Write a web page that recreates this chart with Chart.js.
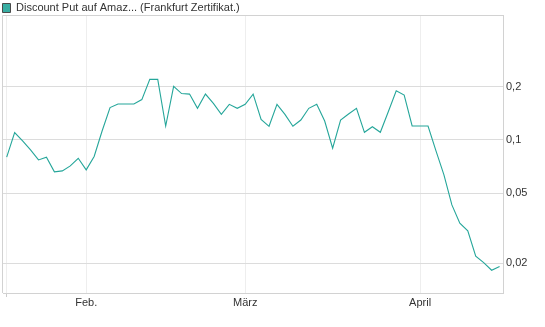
<!DOCTYPE html>
<html><head><meta charset="utf-8">
<script src="https://cdn.jsdelivr.net/npm/chart.js@4/dist/chart.umd.min.js"></script>
<style>html,body{margin:0;padding:0;background:#fff}</style>
</head><body>
<canvas id="c" width="545" height="327"></canvas>
<script>
const seriesLabel = 'Discount Put auf Amaz... (Frankfurt Zertifikat.)';
const prices = [
  0.0799, 0.1102, 0.0987, 0.0878, 0.0771, 0.0799, 0.0660, 0.0668, 0.0713, 0.0788,
  0.0677, 0.0807, 0.1124, 0.1526, 0.1597, 0.1597, 0.1597, 0.1693, 0.2203, 0.2203,
  0.1200, 0.2011, 0.1831, 0.1819, 0.1511, 0.1819, 0.1612, 0.1397, 0.1591, 0.1511,
  0.1591, 0.1819, 0.1306, 0.1195, 0.1591, 0.1397, 0.1195, 0.1297, 0.1511, 0.1591,
  0.1280, 0.0898, 0.1297, 0.1402, 0.1511, 0.1105, 0.1189, 0.1105, 0.1445, 0.1899,
  0.1796, 0.1200, 0.1200, 0.1200, 0.0867, 0.0634, 0.0429, 0.0338, 0.0306, 0.0220,
  0.0202, 0.0183, 0.0192
];
const monthTickIndex = [0, 10, 30, 52];
const monthTickLabels = ['', 'Feb.', 'März', 'April'];
const yTickValues = [0.02, 0.05, 0.1, 0.2];
const yMin = 0.0136, yMax = 0.51;

const FONT = 'Liberation Sans, Arial, sans-serif';
const LINE = '#25a69a';

const points = prices.map((v, i) => ({x: i, y: v}));

const framePlugin = {
  id: 'frame',
  beforeDatasetsDraw(chart) {
    const {ctx, chartArea: a} = chart;
    ctx.save();
    ctx.strokeStyle = '#d2d2d2';
    ctx.lineWidth = 1;
    ctx.beginPath();
    ctx.moveTo(a.left - 0.5, a.bottom);
    ctx.lineTo(a.left - 0.5, a.top + 0.5);
    ctx.lineTo(a.right, a.top + 0.5);
    ctx.stroke();
    ctx.restore();
  }
};
const legendFitPlugin = {
  id: 'legendFit',
  beforeLayout(chart) {
    const lg = chart.legend;
    if (lg && !lg._patched) {
      const orig = lg.fit;
      lg.fit = function () { orig.call(this); this.height = 15; };
      lg._patched = true;
    }
  }
};

new Chart(document.getElementById('c'), {
  type: 'line',
  data: {
    datasets: [{
      label: seriesLabel,
      data: points,
      borderColor: LINE,
      backgroundColor: LINE,
      borderWidth: 1.1,
      pointRadius: 0,
      tension: 0,
      fill: false
    }]
  },
  options: {
    responsive: false,
    animation: false,
    devicePixelRatio: 1,
    layout: {padding: {left: 0, right: 0, top: 0, bottom: 18.8}},
    plugins: {
      tooltip: {enabled: false},
      legend: {
        display: true,
        position: 'top',
        align: 'start',
        labels: {
          boxWidth: 8,
          boxHeight: 9,
          padding: 2.5,
          color: '#333',
          font: {family: FONT, size: 11, lineHeight: 0.9},
          generateLabels(chart) {
            const items = Chart.defaults.plugins.legend.labels.generateLabels(chart);
            items.forEach(it => { it.strokeStyle = '#4a4a4a'; it.lineWidth = 1; it.fillStyle = '#38ada2'; });
            return items;
          }
        }
      }
    },
    scales: {
      x: {
        type: 'linear',
        min: -0.465,
        max: 62.43,
        afterBuildTicks(s) { s.ticks = monthTickIndex.map(v => ({value: v})); },
        ticks: {
          autoSkip: false,
          maxRotation: 0,
          padding: -1,
          color: '#333',
          font: {family: FONT, size: 11},
          callback(v) { const k = monthTickIndex.indexOf(v); return k >= 0 ? monthTickLabels[k] : ''; }
        },
        grid: {
          color: '#eeeeee',
          lineWidth: 1,
          drawTicks: true,
          tickLength: 4,
          tickColor: ctx => (ctx.index === 0 ? '#cccccc' : 'rgba(0,0,0,0)')
        },
        border: {display: true, color: '#d2d2d2', width: 1}
      },
      y: {
        type: 'logarithmic',
        position: 'right',
        min: yMin,
        max: yMax,
        afterBuildTicks(s) { s.ticks = yTickValues.map(v => ({value: v})); },
        afterFit(s) { s.width = 42; },
        ticks: {
          padding: 3,
          color: '#333',
          font: {family: FONT, size: 11},
          callback(v) { return String(v).replace('.', ','); }
        },
        grid: {color: '#dcdcdc', lineWidth: 1, drawTicks: false},
        border: {display: true, color: '#d2d2d2', width: 1}
      },
      yPad: {
        type: 'linear',
        position: 'left',
        display: true,
        ticks: {display: false},
        grid: {display: false, drawTicks: false},
        border: {display: false},
        afterFit(s) { s.width = 3; }
      }
    }
  },
  plugins: [framePlugin, legendFitPlugin]
});
</script>
</body></html>
